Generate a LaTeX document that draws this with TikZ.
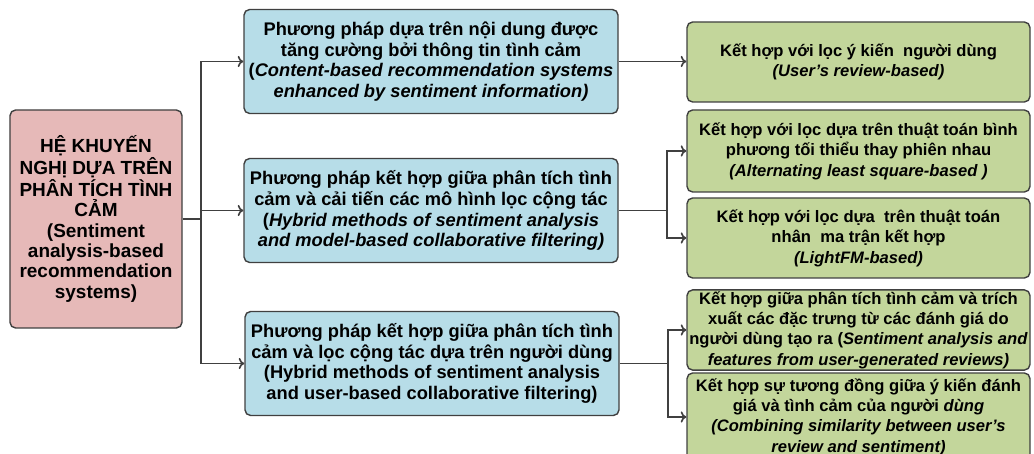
\documentclass[tikz,border=0pt]{standalone}
\usepackage{fontspec}
\setmainfont{Liberation Sans}
\usepackage{tikz}
\usetikzlibrary{positioning, arrows.meta}
\definecolor{rosado}{RGB}{230, 185, 184}
\definecolor{azulclaro}{RGB}{183, 221, 232}
\definecolor{oliva}{RGB}{195, 214, 155}
\definecolor{borde}{RGB}{64, 64, 64}
\tikzset{
    raiz/.style={draw=borde, fill=rosado, rounded corners=4pt, line width=1pt, align=center, inner sep=1pt,
        minimum width=4.3cm, minimum height=5.45cm, font=\bfseries\fontsize{13.5}{14.5}\selectfont},
    meto/.style={draw=borde, fill=azulclaro, rounded corners=4pt, line width=1pt, align=center, inner sep=1pt,
        minimum width=9.35cm, minimum height=2.6cm, font=\bfseries\fontsize{13}{14.8}\selectfont},
    hoja/.style={draw=borde, fill=oliva, rounded corners=4pt, line width=1pt, align=center, inner sep=1pt,
        minimum width=8.575cm, minimum height=2cm, font=\bfseries\fontsize{11.8}{14.5}\selectfont},
    conn/.style={-{To[length=4pt, width=8pt]}, borde, line width=1.2pt},
}
\begin{document}
\begin{tikzpicture}
    \useasboundingbox (0,0) rectangle (25.85,-11.35);
    \clip (0,0) rectangle (25.85,-11.35);

    \node [raiz] (r) at (2.4,-5.475) {HỆ KHUYẾN\\NGHỊ DỰA TRÊN\\PHÂN TÍCH TÌNH\\CẢM\\(Sentiment\\analysis-based\\recommendation\\systems)};

    \node [meto] (m1) at (10.775,-1.5375) {Phương pháp dựa trên nội dung được\\tăng cường bởi thông tin tình cảm\\(\textit{Content-based recommendation systems}\\\textit{enhanced by sentiment information)}};
    \node [meto] (m2) at (10.775,-5.2625) {Phương pháp kết hợp giữa phân tích tình\\cảm và cải tiến các mô hình lọc cộng tác\\(\textit{Hybrid methods of sentiment analysis}\\\textit{and model-based collaborative filtering)}};
    \node [meto] (m3) at (10.8,-9.0875) {Phương pháp kết hợp giữa phân tích tình\\cảm và lọc cộng tác dựa trên người dùng\\(Hybrid methods of sentiment analysis\\and user-based collaborative filtering)};

    \node [hoja] (l1) at (21.4625,-1.55) {Kết hợp với lọc ý kiến\ \ người dùng\\\textit{(User's review-based)}};
    \node [hoja, minimum height=2.05cm] (l2) at (21.4625,-3.775) {Kết hợp với lọc dựa trên thuật toán bình\\phương tối thiểu thay phiên nhau\\\textit{(Alternating least square-based )}};
    \node [hoja] (l3) at (21.4625,-5.95) {Kết hợp với lọc dựa\ \ trên thuật toán\\nhân\ \ ma trận kết hợp\\\textit{(LightFM-based)}};
    \node [hoja] (l4) at (21.4625,-8.25) {Kết hợp giữa phân tích tình cảm và trích\\xuất các đặc trưng từ các đánh giá do\\người dùng tạo ra (\textit{Sentiment analysis and}\\\textit{features from user-generated reviews)}};
    \node [hoja, minimum height=2.2cm] (l5) at (21.4625,-10.425) {Kết hợp sự tương đồng giữa ý kiến đánh\\giá và tình cảm của người \textit{dùng}\\\textit{(Combining similarity between user's}\\\textit{review and sentiment)}};

    % tronco principal
    \coordinate (t) at ([xshift=0.45cm]r.east);
    \draw [conn, -] (r.east) -- (t);
    \draw [conn] (t) |- (m1.west);
    \draw [conn] (t) |- (m2.west);
    \draw [conn] (t) |- (m3.west);

    % ramas de la derecha
    \coordinate (f2) at ([xshift=1.2cm]m2.east);
    \coordinate (f3) at ([xshift=1.2cm]m3.east);
    \draw [conn] (m1.east) -- (m1.east -| l1.west);
    \draw [conn, -] (m2.east) -- (f2);
    \draw [conn] (f2) |- (l2.west);
    \draw [conn] (f2) |- (l3.west);
    \draw [conn, -] (m3.east) -- (f3);
    \draw [conn] (f3) |- (l4.west);
    \draw [conn] (f3) |- (l5.west);
\end{tikzpicture}
\end{document}
